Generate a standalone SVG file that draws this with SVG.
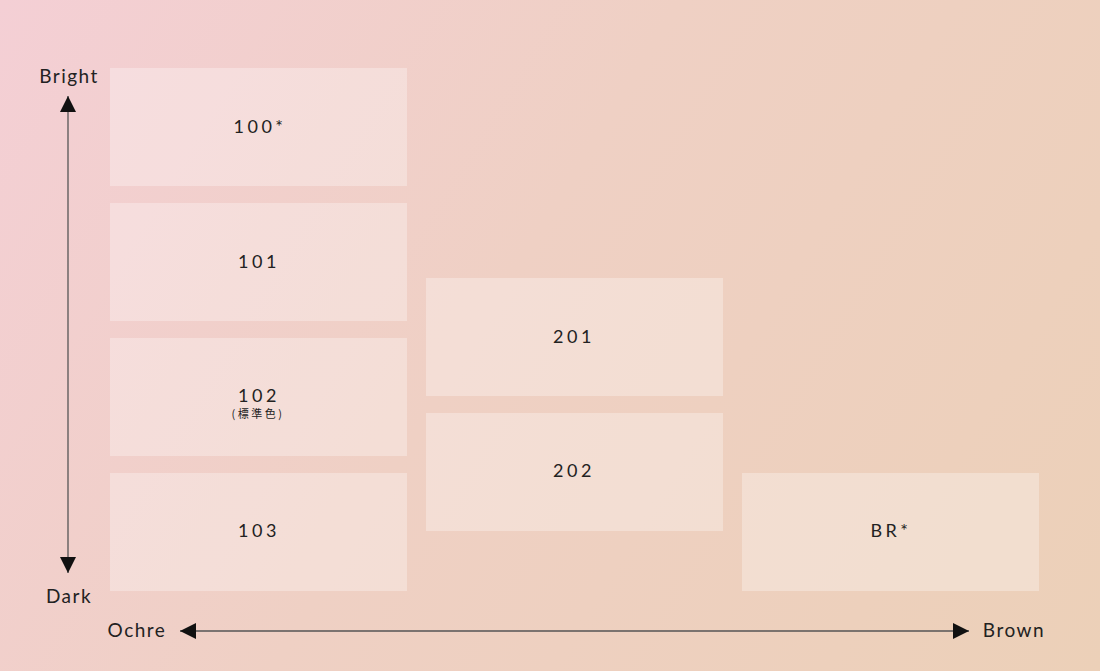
<svg xmlns="http://www.w3.org/2000/svg" width="1100" height="671" viewBox="0 0 1100 671">
<defs>
<linearGradient id="bg" x1="0" y1="0" x2="1100" y2="671" gradientUnits="userSpaceOnUse">
<stop offset="0" stop-color="#f4cfd5"/>
<stop offset="0.45" stop-color="#efd0c4"/>
<stop offset="1" stop-color="#ecd0b8"/>
</linearGradient>
<marker id="ah" viewBox="0 0 10 10" refX="10" refY="5" markerWidth="16" markerHeight="16" markerUnits="userSpaceOnUse" orient="auto-start-reverse">
<path d="M0,0 L10,5 L0,10 Z" fill="#111"/>
</marker>
<style>
.box{fill:#ffffff;fill-opacity:0.3}
.lbl{font-family:"Lato","Noto Sans","Noto Sans CJK JP",sans-serif;font-size:18px;fill:#222;text-anchor:middle;letter-spacing:3.5px}
.sub{font-family:"Noto Sans CJK JP","Noto Sans",sans-serif;font-size:11px;fill:#222;text-anchor:middle;letter-spacing:2.5px}
.ax{font-family:"Lato","Noto Sans",sans-serif;font-size:19px;fill:#222;text-anchor:middle;letter-spacing:1.5px}
.line{stroke:#555;stroke-width:1.3;fill:none}
</style>
</defs>
<rect width="1100" height="671" fill="url(#bg)"/>
<g id="connectors">
<line class="line" x1="68" y1="573" x2="68" y2="96" marker-start="url(#ah)" marker-end="url(#ah)"/>
<line class="line" x1="180" y1="631" x2="969" y2="631" marker-start="url(#ah)" marker-end="url(#ah)"/>
</g>
<g id="axis-labels">
<text class="ax" x="69" y="83">Bright</text>
<text class="ax" x="69" y="603">Dark</text>
<text class="ax" x="137" y="637">Ochre</text>
<text class="ax" x="1014" y="637">Brown</text>
</g>
<g id="n100"><rect class="box" x="110" y="68" width="297" height="118"/><text class="lbl" x="260" y="133">100*</text></g>
<g id="n101"><rect class="box" x="110" y="203" width="297" height="118"/><text class="lbl" x="259" y="268">101</text></g>
<g id="n102"><rect class="box" x="110" y="338" width="297" height="118"/><text class="lbl" x="259" y="402">102</text><text class="sub" x="258" y="418">(標準色)</text></g>
<g id="n103"><rect class="box" x="110" y="473" width="297" height="118"/><text class="lbl" x="259" y="537">103</text></g>
<g id="n201"><rect class="box" x="426" y="278" width="297" height="118"/><text class="lbl" x="574" y="343">201</text></g>
<g id="n202"><rect class="box" x="426" y="413" width="297" height="118"/><text class="lbl" x="574" y="477">202</text></g>
<g id="nBR"><rect class="box" x="742" y="473" width="297" height="118"/><text class="lbl" x="891" y="537">BR*</text></g>
</svg>
